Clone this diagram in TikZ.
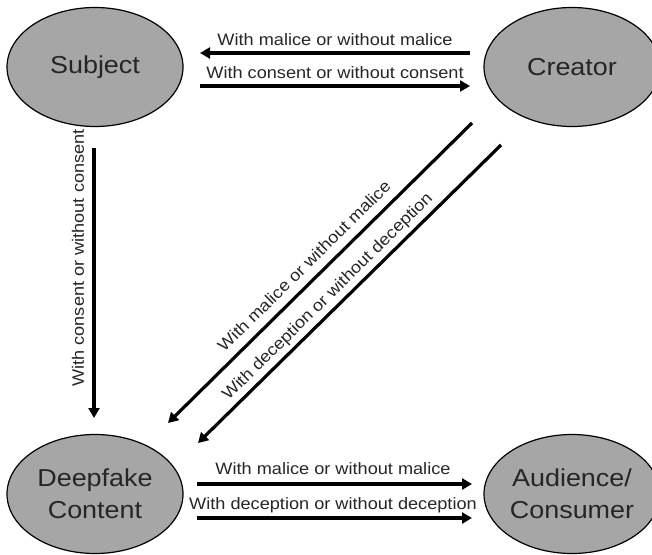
\documentclass[tikz,border=0pt]{standalone}
\usepackage{fontspec}
\setmainfont{Liberation Sans}[FakeStretch=1.1]
\usetikzlibrary{shapes.geometric,arrows.meta}
\definecolor{ellgray}{HTML}{A6A6A6}
\tikzset{
  ent/.style={ellipse, draw=black, line width=1.2pt, fill=ellgray, minimum width=176pt, minimum height=119pt, inner sep=0pt, font=\fontsize{24.5}{32}\selectfont, align=center, text=black!85},
  conn/.style={line width=3.2pt, -{Triangle[length=10pt,width=11pt]}},
  lbl/.style={font=\fontsize{16.5}{19}\selectfont, inner sep=0pt, text=black!85}
}
\begin{document}
\begin{tikzpicture}[x=1pt,y=-1pt]
\useasboundingbox (0,0) rectangle (652,554);
\node[ent] (subj) at (95,67) {Subject};
\node[ent] (crea) at (572,67) {Creator};
\node[ent] (deep) at (95,494) {Deepfake\\Content};
\node[ent] (aud) at (572,494) {Audience/\\Consumer};

\coordinate (t1s) at (470,53); \coordinate (t1e) at (200,53);
\coordinate (t2s) at (200,86); \coordinate (t2e) at (470,86);
\coordinate (vs) at (94,148); \coordinate (ve) at (94,418);
\coordinate (d1s) at (472,123); \coordinate (d1e) at (168,423);
\coordinate (d2s) at (501,145); \coordinate (d2e) at (198,443);
\coordinate (b1s) at (197,484); \coordinate (b1e) at (472,484);
\coordinate (b2s) at (197,518); \coordinate (b2e) at (472,518);

\draw[conn] (t1s) -- (t1e);
\draw[conn] (t2s) -- (t2e);
\draw[conn] (vs) -- (ve);
\draw[conn] (d1s) -- (d1e);
\draw[conn] (d2s) -- (d2e);
\draw[conn] (b1s) -- (b1e);
\draw[conn] (b2s) -- (b2e);

\node[lbl] (l1) at (335,40) {With malice or without malice};
\node[lbl] (l2) at (335,73) {With consent or without consent};
\node[lbl, rotate=90] (l3) at (78,258) {With consent or without consent};
\node[lbl, rotate=44.6] (l4) at (304,266) {With malice or without malice};
\node[lbl, rotate=44.6] (l5) at (328,297) {With deception or without deception};
\node[lbl] (l6) at (333,469) {With malice or without malice};
\node[lbl] (l7) at (333,505) {With deception or without deception};
\end{tikzpicture}
\end{document}
